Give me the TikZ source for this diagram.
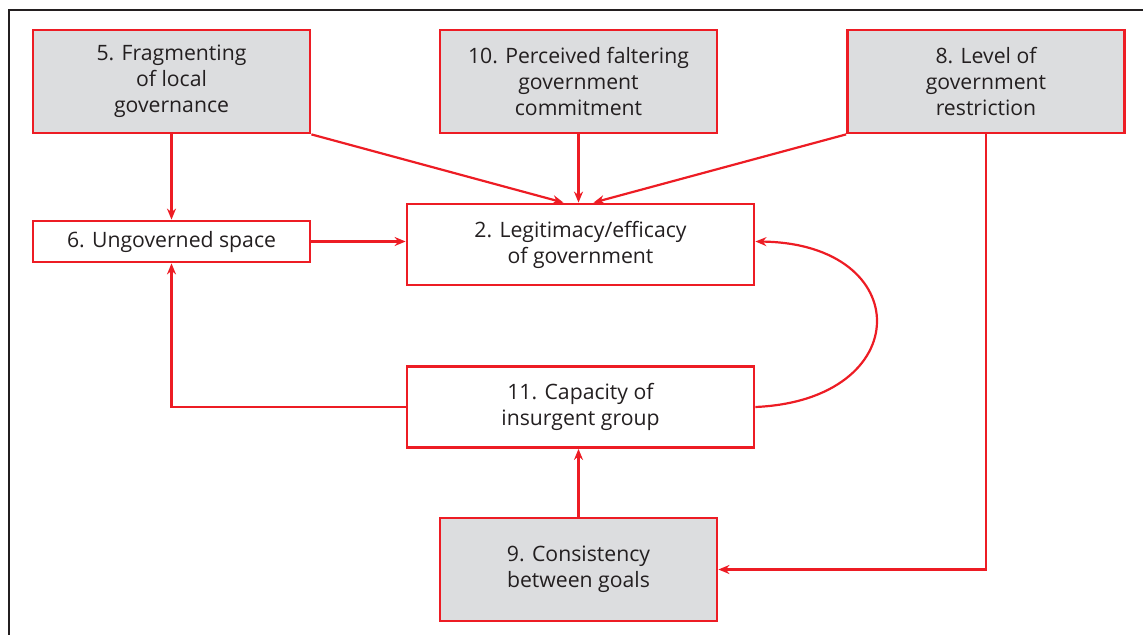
\documentclass[tikz,border=0pt]{standalone}
\usepackage{fontspec}
\setmainfont{Open Sans}
\usetikzlibrary{arrows.meta}
\definecolor{boxred}{RGB}{237,28,36}
\definecolor{boxgray}{RGB}{220,221,223}
\definecolor{textgray}{RGB}{35,31,32}
\begin{document}
\begin{tikzpicture}[
              x = 0.5pt, y = -0.5pt,
              every node/.style = {text = textgray, font = \fontsize{10.6}{13}\selectfont, align = center},
              factor/.style = {draw = boxred, line width = 1.4pt, minimum width = 138.5pt, minimum height = 51.5pt, inner sep = 0pt},
              given/.style = {factor, fill = boxgray},
              link/.style = {draw = boxred, line width = 1.1pt, -{Stealth[length = 5.5pt, width = 4.5pt]}}
            ]
            \useasboundingbox (0, 0) rectangle (1143, 635);
            % frame
            \draw[line width = 0.8pt, textgray] (9, 635) -- (9, 10) -- (1143, 10);
            % nodes
            \node[given]  (n5)  at (171.5, 81.5)  {5. Fragmenting\\of local\\governance};
            \node[given]  (n10) at (578.5, 81.5)  {10. Perceived faltering\\government\\commitment};
            \node[given]  (n8)  at (986, 81.5)    {8. Level of\\government\\restriction};
            \node[factor, minimum height = 20.5pt] (n6) at (171.5, 241.5) {6. Ungoverned space};
            \node[factor, minimum width = 173.5pt, minimum height = 40.5pt] (n2)  at (580.5, 244.5) {2. Legitimacy/efficacy\\of government};
            \node[factor, minimum width = 173.5pt, minimum height = 40.5pt] (n11) at (580.5, 407)   {11. Capacity of\\insurgent group};
            \node[given]  (n9)  at (578.5, 569.5) {9. Consistency\\between goals};
            % into legitimacy
            \draw[link] (n5) -- (n6);
            \draw[link] (n5.south east) -- ([xshift = -8.5pt]n2.north);
            \draw[link] (n10.south) -- (n10.south |- n2.north);
            \draw[link] (n8.south west) -- ([xshift = 6.5pt]n2.north);
            \draw[link] (n6.east) -- (n6.east -| n2.west);
            % feedback of the insurgents
            \draw[link] (n11.west) -| (n6.south);
            \draw[link] (n11.east) .. controls +(80.5pt, 3.5pt) and +(80.5pt, -1pt) .. ([yshift = 1.5pt]n2.east);
            \draw[link] (n9.north) -- (n9.north |- n11.south);
            \draw[link] (n8.south) |- (n9.east);
          \end{tikzpicture}
\end{document}
